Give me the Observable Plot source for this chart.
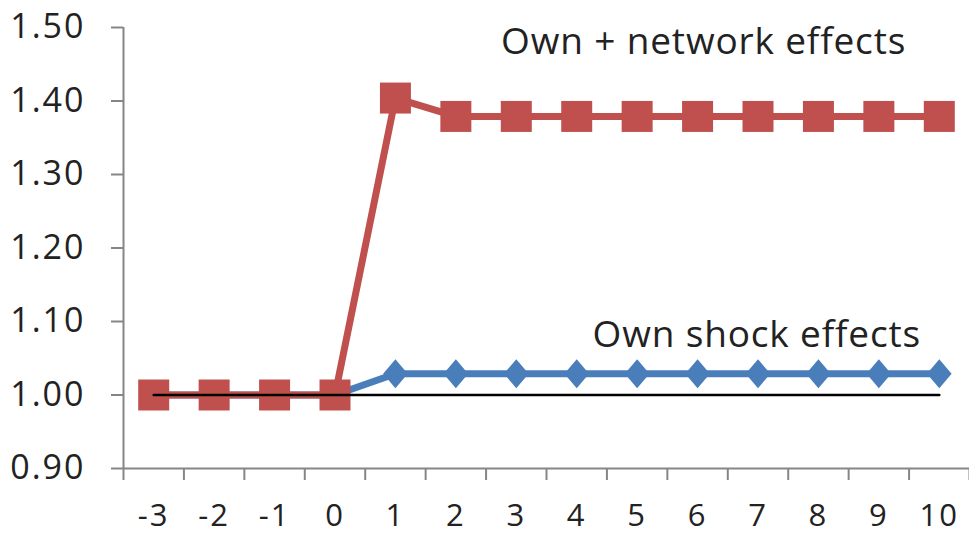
<!DOCTYPE html>
<html>
<head>
<meta charset="utf-8">
<script src="https://cdn.jsdelivr.net/npm/d3@7"></script>
<script src="https://cdn.jsdelivr.net/npm/@observablehq/plot@0.6"></script>
<style>
  html, body { margin: 0; padding: 0; background: #fff; }
  svg { display: block; }
  g[aria-label="y-axis tick label"] text { letter-spacing: 2px; }
  g[aria-label="x-axis tick label"] text { letter-spacing: 2px; }
  g[aria-label="text"] text { letter-spacing: 0.85px; }
</style>
</head>
<body>
<div id="chart"></div>
<script>
// ---- data ----
const periods = [-3, -2, -1, 0, 1, 2, 3, 4, 5, 6, 7, 8, 9, 10];
const ownShock = [1.00, 1.00, 1.00, 1.00, 1.029, 1.029, 1.029, 1.029, 1.029, 1.029, 1.029, 1.029, 1.029, 1.029];
const ownNetwork = [1.00, 1.00, 1.00, 1.00, 1.404, 1.379, 1.379, 1.379, 1.379, 1.379, 1.379, 1.379, 1.379, 1.379];
const baseline = [1.00, 1.00, 1.00, 1.00, 1.00, 1.00, 1.00, 1.00, 1.00, 1.00, 1.00, 1.00, 1.00, 1.00];
const yTicks = [0.90, 1.00, 1.10, 1.20, 1.30, 1.40, 1.50];
const seriesLabels = ["Own + network effects", "Own shock effects"];
const labelX = [6.1, 6.98];
const labelY = [1.48, 1.081];

// ---- tables built from the arrays ----
const blueData = periods.map((p, i) => ({x: p, y: ownShock[i]}));
const redData = periods.map((p, i) => ({x: p, y: ownNetwork[i]}));
const baseData = periods.map((p, i) => ({x: p, y: baseline[i]}));
const labels = seriesLabels.map((t, i) => ({text: t, x: labelX[i], y: labelY[i]}));
const bounds = [periods[0] - 0.5, ...periods.map(p => p + 0.5)];

const gray = "#868686";
const red = "#C0504D";
const blue = "#4A7EBB";
const font = "'Open Sans', sans-serif";

const squareSym = {
  draw(ctx, size) {
    const r = Math.sqrt(size / Math.PI);
    ctx.moveTo(-r, -r); ctx.lineTo(r, -r); ctx.lineTo(r, r); ctx.lineTo(-r, r); ctx.closePath();
  }
};
const diamondSym = {
  draw(ctx, size) {
    const r = Math.sqrt(size / Math.PI);
    const w = r * 0.85;
    ctx.moveTo(0, -r); ctx.lineTo(w, 0); ctx.lineTo(0, r); ctx.lineTo(-w, 0); ctx.closePath();
  }
};

const chart = Plot.plot({
  width: 969,
  height: 534,
  marginTop: 27,
  marginBottom: 66,
  marginLeft: 123,
  marginRight: 0,
  style: {fontFamily: font, background: "#fff"},
  x: {domain: [bounds[0], bounds[bounds.length - 1]], axis: null},
  y: {domain: [0.9, 1.5], axis: null},
  marks: [
    // axis lines
    Plot.ruleY([0.9], {stroke: gray, strokeWidth: 2}),
    Plot.ruleX([bounds[0]], {y1: 0.9, y2: 1.5, stroke: gray, strokeWidth: 2}),
    // y axis ticks + labels
    Plot.axisY({
      ticks: yTicks, tickSize: 12, tickPadding: 26, label: null,
      tickFormat: d => d.toFixed(2),
      stroke: gray, strokeWidth: 2, fill: "#222", fontSize: 34
    }),
    // x axis boundary ticks
    Plot.axisX({
      ticks: bounds, tickSize: 12, tickFormat: () => "", label: null,
      stroke: gray, strokeWidth: 2
    }),
    // x axis labels at category centres
    Plot.axisX({
      ticks: periods, tickSize: 0, tickPadding: 35, label: null,
      tickFormat: d => String(d), fill: "#222", fontSize: 31
    }),
    // blue series
    Plot.line(blueData, {x: "x", y: "y", stroke: blue, strokeWidth: 7}),
    Plot.dot(blueData, {x: "x", y: "y", symbol: diamondSym, r: 14.5, fill: blue, stroke: "none"}),
    // red series
    Plot.line(redData, {x: "x", y: "y", stroke: red, strokeWidth: 7}),
    Plot.dot(redData, {x: "x", y: "y", symbol: squareSym, r: 15.5, fill: red, stroke: "none"}),
    // baseline
    Plot.line(baseData, {x: "x", y: "y", stroke: "#000", strokeWidth: 2.5}),
    // annotations
    Plot.text(labels, {x: "x", y: "y", text: "text", fontSize: 37, fill: "#222", textAnchor: "middle", lineAnchor: "middle"})
  ]
});
document.getElementById("chart").appendChild(chart);
</script>
</body>
</html>
